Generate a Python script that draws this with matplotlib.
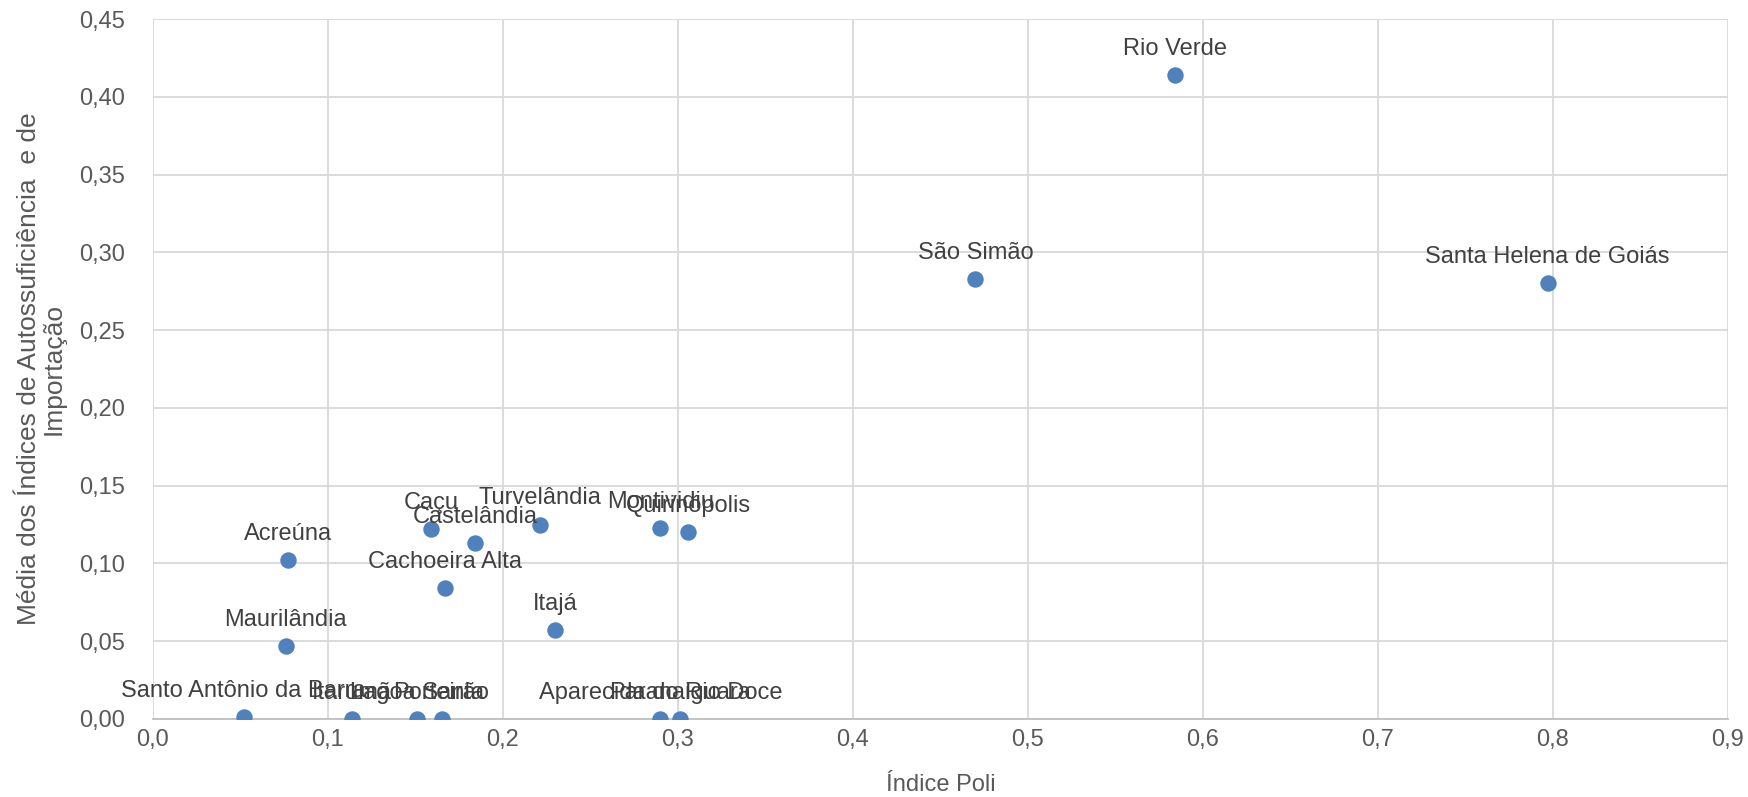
import numpy as np
import matplotlib
matplotlib.use("Agg")
import matplotlib.pyplot as plt
from matplotlib.ticker import MultipleLocator, FuncFormatter

plt.rcParams['font.family'] = ['Liberation Sans', 'DejaVu Sans']

# dados: municípios, índice Poli (x) e média dos índices (y)
names = ["Rio Verde", "São Simão", "Santa Helena de Goiás", "Acreúna", "Maurilândia",
         "Caçu", "Castelândia", "Cachoeira Alta", "Turvelândia", "Itajá",
         "Montividiu", "Quirinópolis", "Santo Antônio da Barra", "Itarumã",
         "Lagoa Santa", "Porteirão", "Aparecida do Rio Doce", "Paranaiguara"]
poli = [0.584, 0.470, 0.797, 0.077, 0.076,
        0.159, 0.184, 0.167, 0.221, 0.230,
        0.290, 0.306, 0.052, 0.114,
        0.151, 0.165, 0.290, 0.301]
media = [0.414, 0.283, 0.280, 0.102, 0.047,
         0.122, 0.113, 0.084, 0.125, 0.057,
         0.1225, 0.120, 0.001, 0.0,
         0.0, 0.0, 0.0, 0.0]

text_color = "#595959"

fig = plt.figure(figsize=(17.48, 7.97), dpi=100)
fig.set_facecolor("white")
ax = fig.add_axes([0.0874, 0.098, 0.9011, 0.878])

ax.scatter(poli, media, s=140, color="#4F81BD", zorder=3, linewidths=0)

for n, x, y in zip(names, poli, media):
    ax.annotate(n, (x, y), xytext=(0, 11), textcoords="offset points",
                ha="center", va="bottom", fontsize=17, color="#404040", zorder=4)

ax.set_xlim(0, 0.9)
ax.set_ylim(0, 0.45)
ax.xaxis.set_major_locator(MultipleLocator(0.1))
ax.yaxis.set_major_locator(MultipleLocator(0.05))
ax.xaxis.set_major_formatter(FuncFormatter(lambda v, p: f"{v:.1f}".replace(".", ",")))
ax.yaxis.set_major_formatter(FuncFormatter(lambda v, p: f"{v:.2f}".replace(".", ",")))
ax.tick_params(axis="both", length=0, labelsize=17, colors=text_color)
ax.tick_params(axis="y", pad=20)
ax.tick_params(axis="x", pad=7)

ax.grid(True, color="#D9D9D9", linewidth=1.3)
ax.set_axisbelow(True)
for s in ["top", "right", "left"]:
    ax.spines[s].set_visible(False)
ax.spines["bottom"].set_color("#BFBFBF")
ax.spines["bottom"].set_linewidth(1.3)

ax.set_xlabel("Índice Poli", fontsize=17, color=text_color, labelpad=17)
ax.set_ylabel("Média dos Índices de Autossuficiência  e de\nImportação", fontsize=19,
              color=text_color, labelpad=10, linespacing=1.0)

fig.savefig("out.png", dpi=100, facecolor="white")
